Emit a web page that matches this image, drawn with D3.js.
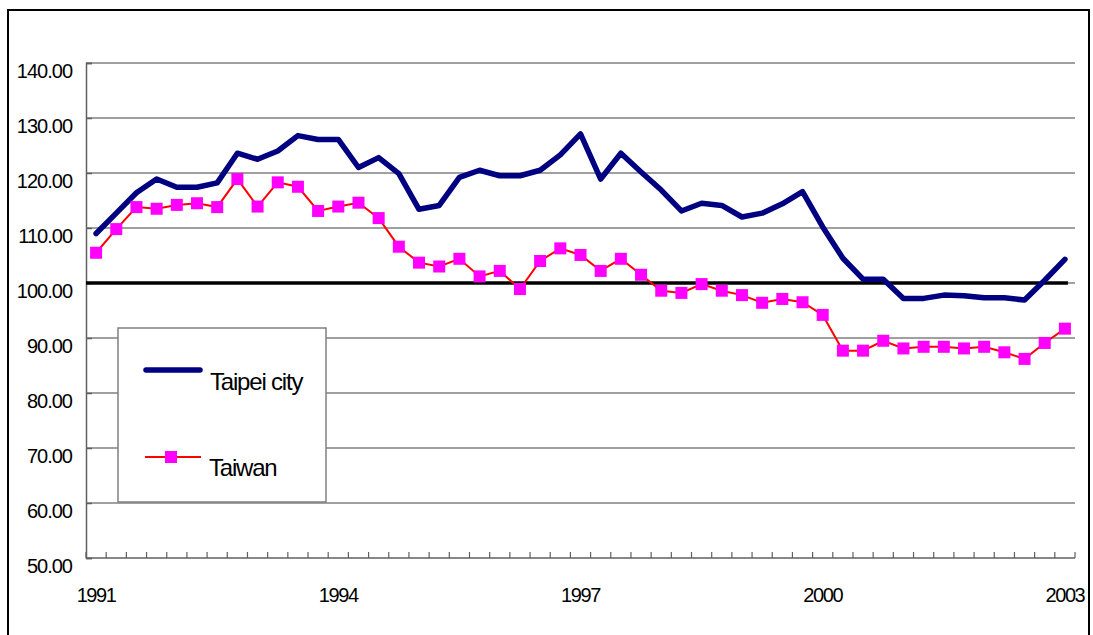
<!DOCTYPE html>
<html>
<head>
<meta charset="utf-8">
<script src="https://cdn.jsdelivr.net/npm/d3@7"></script>
<style>
  body { margin: 0; background: #fff; }
  text { font-family: "Liberation Sans", Arial, sans-serif; fill: #000; }
</style>
</head>
<body>
<div id="chart"></div>
<script>
// quarterly index values, 1991 Q1 .. 2003 Q1
var taipei = [109.0, 112.7, 116.4, 118.9, 117.4, 117.4, 118.2, 123.6, 122.5, 124.0,
  126.8, 126.1, 126.1, 121.0, 122.8, 119.9, 113.4, 114.1, 119.2, 120.5,
  119.5, 119.5, 120.5, 123.3, 127.1, 118.9, 123.6, 120.2, 116.9, 113.1,
  114.5, 114.1, 112.0, 112.7, 114.4, 116.6, 110.2, 104.5, 100.7, 100.7,
  97.2, 97.2, 97.8, 97.7, 97.3, 97.3, 96.9, 100.5, 104.3];
var taiwan = [105.5, 109.8, 113.8, 113.5, 114.2, 114.5, 113.8, 118.9, 113.9, 118.3,
  117.5, 113.1, 113.9, 114.6, 111.8, 106.6, 103.7, 103.0, 104.4, 101.2,
  102.2, 98.9, 104.0, 106.3, 105.1, 102.2, 104.4, 101.5, 98.6, 98.2,
  99.8, 98.6, 97.8, 96.4, 97.1, 96.5, 94.2, 87.7, 87.7, 89.5,
  88.1, 88.4, 88.4, 88.1, 88.4, 87.4, 86.2, 89.1, 91.7];
var yearLabels = ["1991", "1994", "1997", "2000", "2003"];
var yearIndex = [0, 12, 24, 36, 48];
var yTicks = [50, 60, 70, 80, 90, 100, 110, 120, 130, 140];
var baseline = 100;

var width = 1093, height = 635;
var plotLeft = 86, plotRight = 1075, plotTop = 63, plotBottom = 558;

var svg = d3.select('#chart').append('svg')
  .attr('width', width).attr('height', height);

// outer frame
svg.append('rect')
  .attr('x', 8).attr('y', 10).attr('width', 1081).attr('height', 700)
  .attr('fill', 'none').attr('stroke', '#000').attr('stroke-width', 2);

var x = d3.scaleBand()
  .domain(d3.range(taipei.length))
  .range([plotLeft, plotRight])
  .padding(0);
var cx = function(i) { return x(i) + x.bandwidth() / 2; };

var y = d3.scaleLinear().domain([50, 140]).range([plotBottom, plotTop]);

// gridlines
svg.append('g').selectAll('line')
  .data(yTicks.slice(1))
  .enter().append('line')
  .attr('x1', plotLeft).attr('x2', plotRight)
  .attr('y1', function(d) { return y(d); })
  .attr('y2', function(d) { return y(d); })
  .attr('stroke', '#808080').attr('stroke-width', 1.5);

// y axis
var yAxis = svg.append('g')
  .attr('transform', 'translate(' + plotLeft + ',0)')
  .call(d3.axisLeft(y).tickValues(yTicks).tickSize(-6).tickFormat(d3.format('.2f')));
yAxis.attr('font-family', null).attr('font-size', null);
yAxis.select('.domain').attr('stroke', '#606060').attr('stroke-width', 1.5);
yAxis.selectAll('.tick line').attr('stroke', '#606060').attr('stroke-width', 1.5);
yAxis.selectAll('.tick text')
  .attr('x', -14).attr('dy', 14)
  .style('font-size', '20px').style('letter-spacing', '-1px');

// x axis: tick marks between categories
var xg = svg.append('g');
xg.append('line')
  .attr('x1', plotLeft).attr('x2', plotRight).attr('y1', plotBottom).attr('y2', plotBottom)
  .attr('stroke', '#606060').attr('stroke-width', 1.5);
xg.selectAll('line.tk')
  .data(d3.range(taipei.length + 1))
  .enter().append('line')
  .attr('class', 'tk')
  .attr('x1', function(i) { return plotLeft + i * x.bandwidth(); })
  .attr('x2', function(i) { return plotLeft + i * x.bandwidth(); })
  .attr('y1', plotBottom).attr('y2', plotBottom - 6)
  .attr('stroke', '#606060').attr('stroke-width', 1.2);
xg.selectAll('text')
  .data(yearLabels)
  .enter().append('text')
  .attr('x', function(d, i) { return cx(yearIndex[i]); })
  .attr('y', 602)
  .attr('text-anchor', 'middle')
  .style('font-size', '20px').style('letter-spacing', '-1.4px')
  .text(function(d) { return d; });

// 100 reference line
svg.append('line')
  .attr('x1', plotLeft).attr('x2', cx(taipei.length - 1) + 3)
  .attr('y1', y(baseline)).attr('y2', y(baseline))
  .attr('stroke', '#000').attr('stroke-width', 3.5);

var line = d3.line()
  .x(function(d, i) { return cx(i); })
  .y(function(d) { return y(d); });

svg.append('path')
  .datum(taipei)
  .attr('d', line)
  .attr('fill', 'none').attr('stroke', '#000080')
  .attr('stroke-width', 5.5).attr('stroke-linejoin', 'round').attr('stroke-linecap', 'round');

svg.append('path')
  .datum(taiwan)
  .attr('d', line)
  .attr('fill', 'none').attr('stroke', '#ff0000').attr('stroke-width', 2);

svg.append('g').selectAll('rect')
  .data(taiwan)
  .enter().append('rect')
  .attr('x', function(d, i) { return cx(i) - 6; })
  .attr('y', function(d) { return y(d) - 6; })
  .attr('width', 12).attr('height', 12)
  .attr('fill', '#ff00ff');

// legend
var lg = svg.append('g');
lg.append('rect')
  .attr('x', 118).attr('y', 328).attr('width', 208).attr('height', 174)
  .attr('fill', '#fff').attr('stroke', '#808080').attr('stroke-width', 1.5);
lg.append('line')
  .attr('x1', 146).attr('x2', 200).attr('y1', 370).attr('y2', 370)
  .attr('stroke', '#000080').attr('stroke-width', 5.5).attr('stroke-linecap', 'round');
lg.append('text')
  .attr('x', 210).attr('y', 390)
  .style('font-size', '24px').style('letter-spacing', '-1.2px')
  .text('Taipei city');
lg.append('line')
  .attr('x1', 145).attr('x2', 201).attr('y1', 457).attr('y2', 457)
  .attr('stroke', '#ff0000').attr('stroke-width', 2);
lg.append('rect')
  .attr('x', 165).attr('y', 451).attr('width', 12).attr('height', 12)
  .attr('fill', '#ff00ff');
lg.append('text')
  .attr('x', 209).attr('y', 476)
  .style('font-size', '24px').style('letter-spacing', '-1.2px')
  .text('Taiwan');
</script>
</body>
</html>
